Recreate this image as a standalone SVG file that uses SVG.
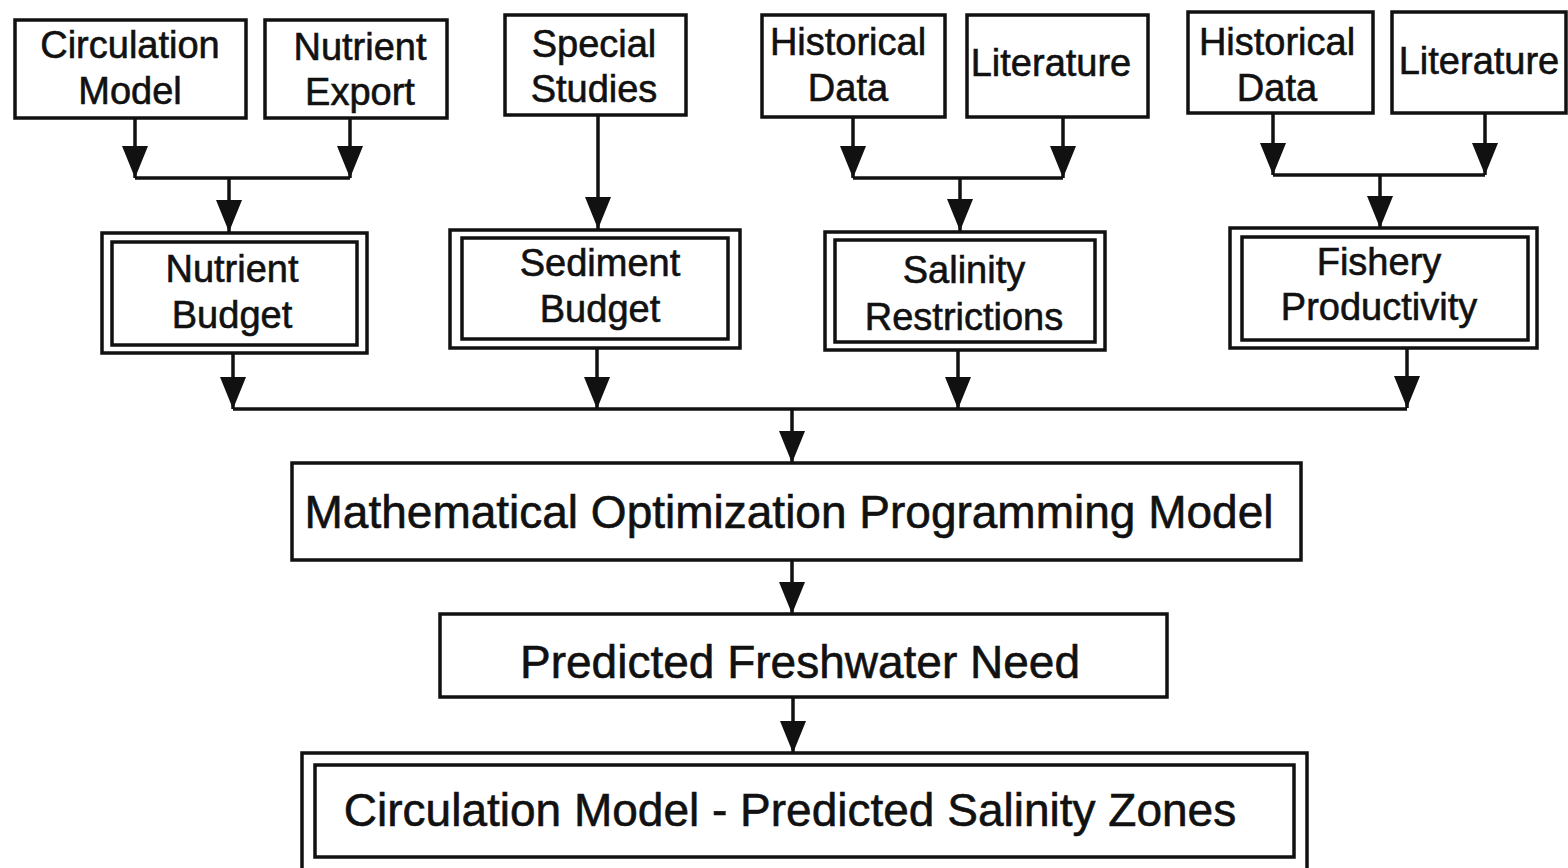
<svg xmlns="http://www.w3.org/2000/svg" width="1568" height="868" viewBox="0 0 1568 868">
<defs>
<style>
.b{fill:#fff;stroke:#111;stroke-width:3.5}
.t{font-family:"Liberation Sans",Arial,sans-serif;font-size:38px;fill:#111;stroke:#111;stroke-width:0.6;text-anchor:middle}
.tl{font-family:"Liberation Sans",Arial,sans-serif;font-size:46px;fill:#111;stroke:#111;stroke-width:0.6;text-anchor:middle}
.c{fill:none;stroke:#111;stroke-width:3.5}
</style>
<marker id="ah" markerUnits="userSpaceOnUse" markerWidth="32" markerHeight="26" viewBox="0 0 32 26" refX="32" refY="13" orient="auto">
<path d="M0,0 L32,13 L0,26 z" fill="#111"/>
</marker>
</defs>
<rect width="1568" height="868" fill="#fff"/>
<g id="connectors">
<path class="c" d="M135,118 V178" marker-end="url(#ah)"/>
<path class="c" d="M350,118 V178" marker-end="url(#ah)"/>
<path class="c" d="M135,178 H350"/>
<path class="c" d="M229,178 V232" marker-end="url(#ah)"/>
<path class="c" d="M598,115 V229" marker-end="url(#ah)"/>
<path class="c" d="M853,117 V178" marker-end="url(#ah)"/>
<path class="c" d="M1063,117 V178" marker-end="url(#ah)"/>
<path class="c" d="M853,178 H1063"/>
<path class="c" d="M960,178 V231" marker-end="url(#ah)"/>
<path class="c" d="M1273,113 V175" marker-end="url(#ah)"/>
<path class="c" d="M1485,113 V175" marker-end="url(#ah)"/>
<path class="c" d="M1273,175 H1485"/>
<path class="c" d="M1380,175 V228" marker-end="url(#ah)"/>
<path class="c" d="M233,353 V409" marker-end="url(#ah)"/>
<path class="c" d="M597,348 V409" marker-end="url(#ah)"/>
<path class="c" d="M958,350 V409" marker-end="url(#ah)"/>
<path class="c" d="M1407,348 V408" marker-end="url(#ah)"/>
<path class="c" d="M233,409 H1407"/>
<path class="c" d="M792,409 V463" marker-end="url(#ah)"/>
<path class="c" d="M792,560 V614" marker-end="url(#ah)"/>
<path class="c" d="M793,697 V753" marker-end="url(#ah)"/>
</g>
<g id="circulation-model">
<rect class="b" x="15" y="20" width="231" height="98"/>
<text class="t" x="130" y="58">Circulation</text>
<text class="t" x="130" y="104">Model</text>
</g>
<g id="nutrient-export">
<rect class="b" x="265" y="20" width="182" height="98"/>
<text class="t" x="360" y="60">Nutrient</text>
<text class="t" x="360" y="105">Export</text>
</g>
<g id="special-studies">
<rect class="b" x="505" y="15" width="181" height="100"/>
<text class="t" x="594" y="57">Special</text>
<text class="t" x="594" y="102">Studies</text>
</g>
<g id="historical-data-1">
<rect class="b" x="762" y="15" width="183" height="102"/>
<text class="t" x="848" y="55">Historical</text>
<text class="t" x="848" y="101">Data</text>
</g>
<g id="literature-1">
<rect class="b" x="967" y="15" width="181" height="102"/>
<text class="t" x="1051" y="76">Literature</text>
</g>
<g id="historical-data-2">
<rect class="b" x="1188" y="12" width="185" height="101"/>
<text class="t" x="1277" y="55">Historical</text>
<text class="t" x="1277" y="101">Data</text>
</g>
<g id="literature-2">
<rect class="b" x="1392" y="12" width="174" height="101"/>
<text class="t" x="1479" y="74">Literature</text>
</g>
<g id="nutrient-budget">
<rect class="b" x="102" y="233" width="265" height="120"/>
<rect class="b" x="112" y="242" width="245" height="103"/>
<text class="t" x="232" y="282">Nutrient</text>
<text class="t" x="232" y="328">Budget</text>
</g>
<g id="sediment-budget">
<rect class="b" x="450" y="230" width="290" height="118"/>
<rect class="b" x="462" y="238" width="266" height="101"/>
<text class="t" x="600" y="276">Sediment</text>
<text class="t" x="600" y="322">Budget</text>
</g>
<g id="salinity-restrictions">
<rect class="b" x="825" y="232" width="280" height="118"/>
<rect class="b" x="835" y="240" width="260" height="102"/>
<text class="t" x="964" y="283">Salinity</text>
<text class="t" x="964" y="330">Restrictions</text>
</g>
<g id="fishery-productivity">
<rect class="b" x="1230" y="228" width="307" height="120"/>
<rect class="b" x="1242" y="237" width="286" height="103"/>
<text class="t" x="1379" y="275">Fishery</text>
<text class="t" x="1379" y="320">Productivity</text>
</g>
<g id="math-model">
<rect class="b" x="292" y="463" width="1009" height="97"/>
<text class="tl" x="789" y="528">Mathematical Optimization Programming Model</text>
</g>
<g id="freshwater-need">
<rect class="b" x="440" y="614" width="727" height="83"/>
<text class="tl" x="800" y="678">Predicted Freshwater Need</text>
</g>
<g id="salinity-zones">
<rect class="b" x="302" y="753" width="1005" height="118"/>
<rect class="b" x="315" y="765" width="979" height="92"/>
<text class="tl" x="790" y="826">Circulation Model - Predicted Salinity Zones</text>
</g>
</svg>
